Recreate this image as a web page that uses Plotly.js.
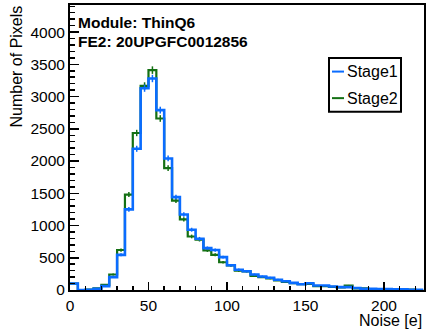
<!DOCTYPE html>
<html>
<head>
<meta charset="utf-8">
<script src="https://cdn.plot.ly/plotly-3.0.1.min.js"></script>
<style>html,body{margin:0;padding:0;background:#fff;}#chart{width:431px;height:336px;}</style>
</head>
<body>
<div id="chart"></div>
<script>
// Histogram binning (noise in electrons)
const binStart = 0;
const binWidth = 5;
const xTickVals = [0, 50, 100, 150, 200];
const yTickVals = [0, 500, 1000, 1500, 2000, 2500, 3000, 3500, 4000];

// Bin contents (45 bins, 0 - 225 e)
const stage1 = [100, 0, 5, 20, 60, 200, 545, 1250, 2190, 3130, 3280, 2790, 2040, 1440, 1170, 935, 795, 650, 620, 510,
                385, 315, 290, 240, 210, 190, 160, 135, 110, 90, 105, 70, 70, 55, 45, 45, 30, 20, 20, 15,
                15, 10, 10, 5, 5];
const stage2 = [100, 0, 5, 25, 80, 240, 620, 1480, 2435, 3165, 3410, 2660, 1890, 1385, 1095, 830, 780, 615, 545, 430,
                380, 300, 290, 220, 200, 180, 150, 125, 105, 90, 95, 60, 60, 50, 40, 70, 25, 25, 15, 15,
                10, 10, 5, 5, 0];
const seriesNames = ["Stage1", "Stage2"];
const seriesColors = ["#0a6cff", "#147014"];

function stepTrace(vals, name, color, width) {
  const xs = [], ys = [];
  for (let i = 0; i < vals.length; i++) { xs.push(binStart + i * binWidth); ys.push(vals[i]); }
  xs.push(binStart + vals.length * binWidth); ys.push(vals[vals.length - 1]);
  return {x: xs, y: ys, type: 'scatter', mode: 'lines', name: name,
          line: {shape: 'hv', color: color, width: width}, showlegend: false, hoverinfo: 'skip'};
}
function errTrace(vals, name, color) {
  const xs = vals.map((v, i) => binStart + (i + 0.5) * binWidth);
  return {x: xs, y: vals, type: 'scatter', mode: 'markers', name: name + ' errors',
          marker: {size: 1, color: color},
          error_y: {type: 'sqrt', visible: true, color: color, thickness: 1.5, width: 0},
          showlegend: false, hoverinfo: 'skip'};
}

const traces = [
  stepTrace(stage2, seriesNames[1], seriesColors[1], 2.2),
  errTrace(stage2, seriesNames[1], seriesColors[1]),
  stepTrace(stage1, seriesNames[0], seriesColors[0], 2.6),
  errTrace(stage1, seriesNames[0], seriesColors[0])
];

const F = "Liberation Sans, Arial, Helvetica, sans-serif";
const L = 70, R = 424, T = 5, B = 290.5;
const px = v => (v - L) / (R - L);
const py = v => (B - v) / (B - T);

const layout = {
  width: 431, height: 336,
  margin: {l: L, r: 431 - R, t: T, b: 336 - B},
  paper_bgcolor: '#fff', plot_bgcolor: '#fff',
  showlegend: false,
  font: {family: F, size: 15.5, color: '#000'},
  xaxis: {range: [0, 225.5], tickvals: xTickVals, ticks: 'inside', ticklen: 8, tickwidth: 1.5, tickcolor: '#000',
          minor: {dtick: 10, ticks: 'inside', ticklen: 4, tickwidth: 1.5, tickcolor: '#000'},
          showline: true, linewidth: 2, linecolor: '#000', mirror: true, showgrid: false, zeroline: false,
          tickfont: {family: F, size: 15.5, color: '#000'}},
  yaxis: {range: [0, 4420], tickvals: yTickVals, ticks: 'inside', ticklen: 9, tickwidth: 1.5, tickcolor: '#000',
          minor: {dtick: 100, ticks: 'inside', ticklen: 5, tickwidth: 1.5, tickcolor: '#000'},
          showline: true, linewidth: 2, linecolor: '#000', mirror: true, showgrid: false, zeroline: false,
          tickfont: {family: F, size: 15.5, color: '#000'}},
  shapes: [
    {type: 'rect', xref: 'paper', yref: 'paper', x0: px(329), x1: px(401), y0: py(112), y1: py(58),
     line: {color: '#000', width: 2}, fillcolor: '#fff'},
    {type: 'line', xref: 'paper', yref: 'paper', x0: px(332), x1: px(344), y0: py(71.7), y1: py(71.7),
     line: {color: seriesColors[0], width: 2}},
    {type: 'line', xref: 'paper', yref: 'paper', x0: px(332), x1: px(344), y0: py(98.3), y1: py(98.3),
     line: {color: seriesColors[1], width: 2}}
  ],
  annotations: [
    {text: 'Module: ThinQ6', xref: 'paper', yref: 'paper', x: px(76), y: py(23), xanchor: 'left', yanchor: 'middle',
     showarrow: false, font: {family: F, size: 15.5, weight: 'bold', color: '#000'}},
    {text: 'FE2: 20UPGFC0012856', xref: 'paper', yref: 'paper', x: px(76), y: py(42), xanchor: 'left', yanchor: 'middle',
     showarrow: false, font: {family: F, size: 15.5, weight: 'bold', color: '#000'}},
    {text: seriesNames[0], xref: 'paper', yref: 'paper', x: px(345), y: py(71.7), xanchor: 'left', yanchor: 'middle',
     showarrow: false, font: {family: F, size: 16, color: '#000'}},
    {text: seriesNames[1], xref: 'paper', yref: 'paper', x: px(345), y: py(98.3), xanchor: 'left', yanchor: 'middle',
     showarrow: false, font: {family: F, size: 16, color: '#000'}},
    {text: 'Noise [e]', xref: 'paper', yref: 'paper', x: px(424), y: py(321), xanchor: 'right', yanchor: 'middle',
     showarrow: false, font: {family: F, size: 16, color: '#000'}},
    {text: 'Number of Pixels', xref: 'paper', yref: 'paper', x: px(16.5), y: py(4), xanchor: 'center', yanchor: 'top',
     textangle: -90, showarrow: false, font: {family: F, size: 16, color: '#000'}}
  ]
};

Plotly.newPlot('chart', traces, layout, {staticPlot: true, displayModeBar: false});
</script>
</body>
</html>
